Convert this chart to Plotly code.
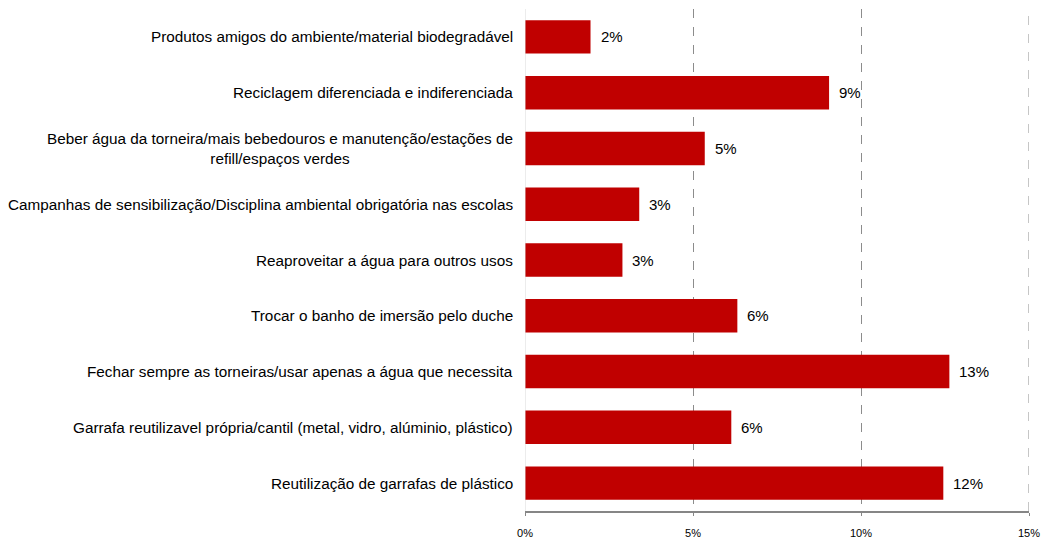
import plotly.graph_objects as go

# Survey answers (top to bottom) and their share of responses
categories = [
    "Produtos amigos do ambiente/material biodegradável",
    "Reciclagem diferenciada e indiferenciada",
    "Beber água da torneira/mais bebedouros e manutenção/estações de<br>refill/espaços verdes",
    "Campanhas de sensibilização/Disciplina ambiental obrigatória nas escolas",
    "Reaproveitar a água para outros usos",
    "Trocar o banho de imersão pelo duche",
    "Fechar sempre as torneiras/usar apenas a água que necessita",
    "Garrafa reutilizavel própria/cantil (metal, vidro, alúminio, plástico)",
    "Reutilização de garrafas de plástico",
]
shares = [0.0195, 0.0905, 0.0535, 0.0340, 0.0290, 0.0632, 0.1263, 0.0614, 0.1245]

x_ticks = [0, 0.05, 0.10, 0.15]
x_tick_labels = ["0%", "5%", "10%", "15%"]

FONT = "Liberation Sans, Arial, sans-serif"
BAR_RED = "#c00000"
GRID_GREY = "#8c8c8c"

fig = go.Figure(
    go.Bar(
        x=shares,
        y=categories,
        orientation="h",
        marker=dict(color=BAR_RED, line=dict(width=0)),
        width=0.6,
    )
)

# Category labels drawn as annotations so wrapped lines stay centred
annotations = []
for cat in categories:
    annotations.append(
        dict(
            x=0, xref="paper", y=cat, yref="y",
            text=cat, showarrow=False,
            xanchor="right", yanchor="middle", align="center",
            xshift=-10,
            font=dict(family=FONT, size=15.3, color="#000000"),
        )
    )
# Value labels at the end of each bar
for cat, val in zip(categories, shares):
    annotations.append(
        dict(
            x=val, xref="x", y=cat, yref="y",
            text=f"{round(val * 100):.0f}%", showarrow=False,
            xanchor="left", yanchor="middle",
            xshift=8,
            font=dict(family=FONT, size=15, color="#000000"),
        )
    )

fig.update_layout(
    width=1045,
    height=540,
    margin=dict(l=525, r=16, t=9, b=29),
    paper_bgcolor="white",
    plot_bgcolor="white",
    showlegend=False,
    annotations=annotations,
    xaxis=dict(
        range=[x_ticks[0], x_ticks[-1]],
        tickvals=x_ticks,
        ticktext=x_tick_labels,
        tickfont=dict(family=FONT, size=11, color="#000000"),
        ticklabelstandoff=8,
        automargin=False,
        showgrid=True,
        gridcolor=GRID_GREY,
        griddash="dash",
        gridwidth=1,
        zeroline=False,
        showline=True,
        linecolor="#868686",
        linewidth=2,
        ticks="outside",
        ticklen=3,
        tickcolor="#868686",
        fixedrange=True,
    ),
    yaxis=dict(
        autorange="reversed",
        showticklabels=False,
        showgrid=False,
        zeroline=False,
        showline=False,
        automargin=False,
        fixedrange=True,
    ),
    shapes=[
        # light value axis at 0%
        dict(
            type="line", xref="x", yref="paper",
            x0=x_ticks[0], x1=x_ticks[0], y0=0, y1=1,
            line=dict(color="#d9d9d9", width=1),
        ),
        # dashed gridline at the axis maximum
        dict(
            type="line", xref="x", yref="paper",
            x0=x_ticks[-1], x1=x_ticks[-1], y0=0, y1=1,
            line=dict(color=GRID_GREY, width=1, dash="dash"),
        ),
    ],
)

fig.write_html("out.html")
